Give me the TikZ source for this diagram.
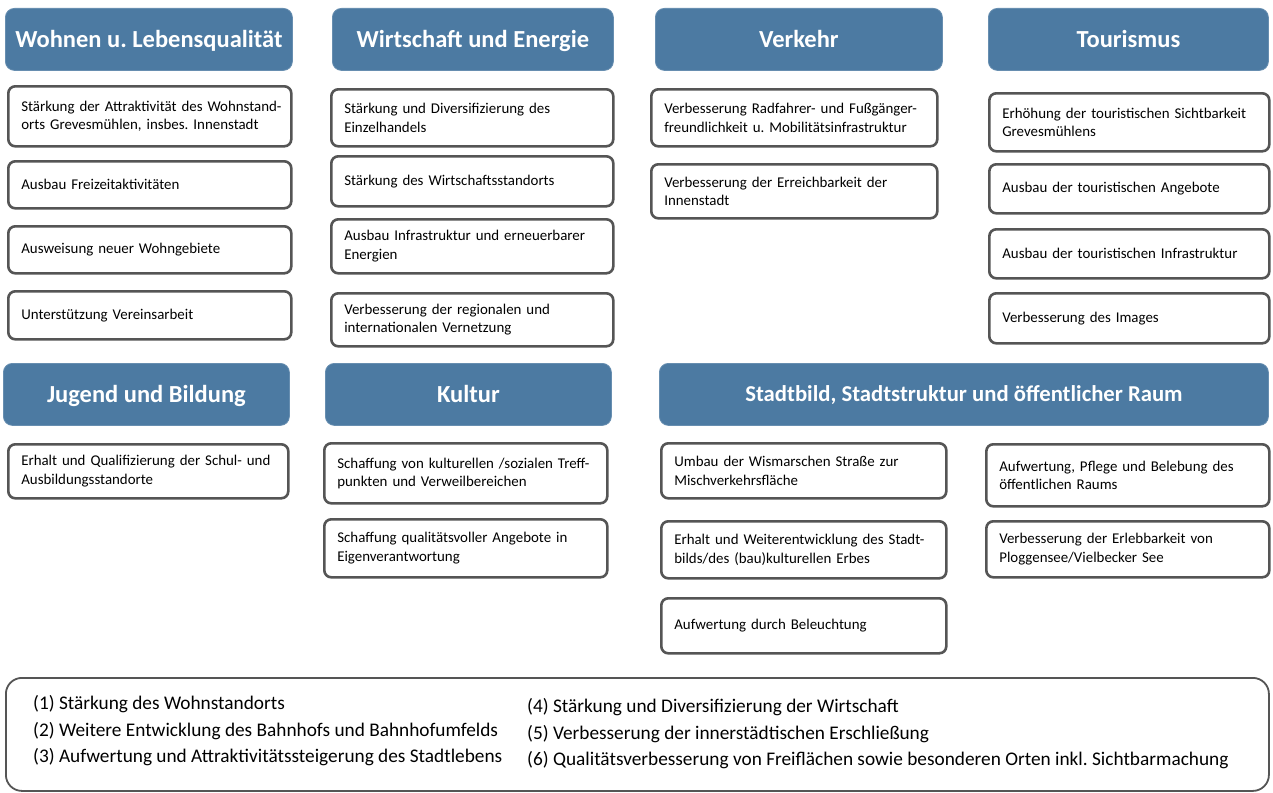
\documentclass[tikz,border=0pt]{standalone}
\usepackage{fontspec}
\setmainfont{Carlito}
\usepackage{tikz}
\usetikzlibrary{positioning}
\definecolor{kopfblau}{RGB}{76,122,162}
\definecolor{rahmengrau}{RGB}{85,85,85}
\tikzset{
  kopf/.style={rounded corners=9pt, fill=kopfblau, draw=kopfblau!85!white, line width=0.8pt,
    text=white, font=\fontsize{24.5}{28}\selectfont\bfseries, inner sep=0pt, anchor=north west,
    minimum height=62pt, text height=16pt, text depth=0pt},
  ziel/.style={rounded corners=7pt, draw=rahmengrau, line width=2.6pt, fill=white,
    font=\fontsize{14.9}{18.5}\selectfont, align=left, inner xsep=13pt, inner ysep=0pt,
    anchor=north west},
  legende/.style={font=\fontsize{19.3}{26.5}\selectfont, align=left, anchor=west, inner sep=0pt},
}
\frenchspacing
\begin{document}
\begin{tikzpicture}[x=1pt, y=-1pt]
  \useasboundingbox (0,0) rectangle (1273,792);
  % Handlungsfelder
  \node[kopf, minimum width=287pt] (hWohnen)  at (5,8)   {Wohnen u. Lebensqualität};
  \node[kopf, minimum width=281pt] (hWirt)    at (332,8) {Wirtschaft und Energie};
  \node[kopf, minimum width=287pt] (hVerkehr) at (655,8) {Verkehr};
  \node[kopf, minimum width=280pt] (hTour)    at (988,8) {Tourismus};
  \node[kopf, minimum width=286pt] (hJugend)  at (3,363)   {Jugend und Bildung};
  \node[kopf, minimum width=286pt] (hKultur)  at (325,363) {Kultur};
  \node[kopf, minimum width=609pt, font=\fontsize{22.7}{26}\selectfont\bfseries, text height=15pt] (hStadt) at (659,363)
    {Stadtbild, Stadtstruktur und öffentlicher Raum};
  % Wohnen
  \node[ziel, text width=257pt, minimum height=60pt] (w1) at (7,85)  {\mbox{Stärkung der Attraktivität des Wohnstand-}\\orts Grevesmühlen, insbes. Innenstadt};
  \node[ziel, text width=257pt, minimum height=47pt] (w2) at (7,160) {Ausbau Freizeitaktivitäten};
  \node[ziel, text width=257pt, minimum height=47pt] (w3) at (7,225) {Ausweisung neuer Wohngebiete};
  \node[ziel, text width=257pt, minimum height=48pt] (w4) at (7,290) {Unterstützung Vereinsarbeit};
  % Wirtschaft
  \node[ziel, text width=256pt, minimum height=57pt] (e1) at (330,88)  {Stärkung und Diversifizierung des\\Einzelhandels};
  \node[ziel, text width=256pt, minimum height=50pt] (e2) at (330,155) {Stärkung des Wirtschaftsstandorts};
  \node[ziel, text width=256pt, minimum height=54pt] (e3) at (330,218) {Ausbau Infrastruktur und erneuerbarer\\Energien};
  \node[ziel, text width=256pt, minimum height=53pt] (e4) at (330,292) {Verbesserung der regionalen und\\internationalen Vernetzung};
  % Verkehr
  \node[ziel, text width=260pt, minimum height=57pt] (v1) at (650,88)  {\mbox{Verbesserung Radfahrer- und Fußgänger-}\\freundlichkeit u. Mobilitätsinfrastruktur};
  \node[ziel, text width=260pt, minimum height=54pt] (v2) at (650,163) {Verbesserung der Erreichbarkeit der\\Innenstadt};
  % Tourismus
  \node[ziel, text width=254pt, minimum height=58pt] (t1) at (988,92)  {Erhöhung der touristischen Sichtbarkeit\\Grevesmühlens};
  \node[ziel, text width=254pt, minimum height=49pt] (t2) at (988,163) {Ausbau der touristischen Angebote};
  \node[ziel, text width=254pt, minimum height=49pt] (t3) at (988,228) {Ausbau der touristischen Infrastruktur};
  \node[ziel, text width=254pt, minimum height=50pt] (t4) at (988,292) {Verbesserung des Images};
  % Jugend und Kultur
  \node[ziel, text width=254pt, minimum height=54pt] (j1) at (7,443)   {\mbox{Erhalt und Qualifizierung der Schul- und}\\Ausbildungsstandorte};
  \node[ziel, text width=257pt, minimum height=60pt] (k1) at (323,442) {\mbox{Schaffung von kulturellen /sozialen Treff-}\\punkten und Verweilbereichen};
  \node[ziel, text width=257pt, minimum height=58pt] (k2) at (323,518) {Schaffung qualitätsvoller Angebote in\\Eigenverantwortung};
  % Stadtbild
  \node[ziel, text width=259pt, minimum height=55pt] (s1) at (660,442) {Umbau der Wismarschen Straße zur\\Mischverkehrsfläche};
  \node[ziel, text width=259pt, minimum height=57pt] (s2) at (660,520) {\mbox{Erhalt und Weiterentwicklung des Stadt-}\\bilds/des (bau)kulturellen Erbes};
  \node[ziel, text width=259pt, minimum height=55pt] (s3) at (660,597) {Aufwertung durch Beleuchtung};
  \node[ziel, text width=257pt, minimum height=62pt] (s4) at (985,443) {Aufwertung, Pflege und Belebung des\\öffentlichen Raums};
  \node[ziel, text width=257pt, minimum height=56pt] (s5) at (985,520) {Verbesserung der Erlebbarkeit von\\Ploggensee/Vielbecker See};
  % Leitziele
  \node[draw=rahmengrau, line width=1.8pt, rounded corners=16pt, anchor=north west,
        minimum width=1263pt, minimum height=113pt, inner sep=0pt] (leit) at (5,677) {};
  \node[legende] (leitL) at (33,731)
    {(1) Stärkung des Wohnstandorts\\(2) Weitere Entwicklung des Bahnhofs und Bahnhofumfelds\\(3) Aufwertung und Attraktivitätssteigerung des Stadtlebens};
  \node[legende] (leitR) at (527,734)
    {(4) Stärkung und Diversifizierung der Wirtschaft\\(5) Verbesserung der innerstädtischen Erschließung\\(6) Qualitätsverbesserung von Freiflächen sowie besonderen Orten inkl. Sichtbarmachung};
\end{tikzpicture}
\end{document}
